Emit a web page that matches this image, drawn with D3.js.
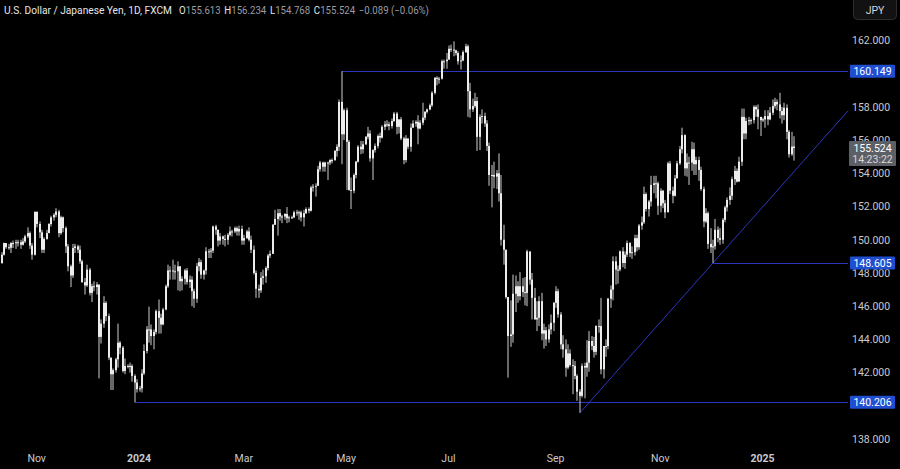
<!DOCTYPE html>
<html>
<head>
<meta charset="utf-8">
<script src="https://cdn.jsdelivr.net/npm/d3@7"></script>
<style>
html, body { margin: 0; padding: 0; background: #000; }
svg { display: block; }
</style>
</head>
<body>
<div id="chart"></div>
<script>
// USD/JPY daily candles, weekdays from 11 Oct 2023 to 20 Jan 2025
var startDate = "2023-10-11";
var firstOpen = 148.60;

var closes = [
  149.10,149.80,149.55,
  149.52,149.80,149.80,149.85,149.85,
  149.70,149.90,150.20,150.40,149.65,
  149.10,151.68,150.95,150.45,149.40,
  150.05,150.40,150.95,151.35,151.50,
  151.70,150.40,151.35,150.70,149.60,
  148.40,147.85,149.50,149.60,149.40,
  148.70,147.45,147.25,148.20,146.80,
  147.20,147.15,147.30,144.15,144.95,
  146.20,145.40,142.90,141.90,142.15,
  142.80,143.80,143.50,142.10,142.40,
  142.40,142.40,141.80,141.40,141.00,
  141.05,141.95,143.30,144.60,144.60,
  144.20,144.45,145.70,145.30,144.90,
  145.80,147.20,148.15,148.15,148.10,
  148.10,148.40,147.50,147.65,148.15,
  147.45,147.60,146.90,146.45,148.40,
  148.65,147.90,148.15,149.30,149.30,
  149.35,150.80,150.60,149.95,150.20,
  150.05,150.00,150.30,150.50,150.50,
  150.70,150.50,150.65,149.95,150.10,
  150.50,150.00,149.40,148.00,147.05,
  146.95,147.70,147.80,148.30,149.05,
  149.15,150.90,151.25,151.60,151.40,
  151.40,151.55,151.30,151.35,151.35,
  151.65,151.60,151.65,151.35,151.60,
  151.85,151.75,153.15,153.20,153.25,
  154.25,154.65,154.40,154.65,154.65,
  154.80,154.80,155.35,155.60,158.30,
  156.35,157.80,155.90,153.00,152.95,
  153.90,154.70,155.60,155.45,155.75,
  156.20,156.40,154.90,155.40,155.65,
  156.25,156.15,156.80,156.95,156.95,
  156.85,157.15,157.60,156.80,157.25,
  156.10,154.80,156.10,155.60,156.75,
  157.00,157.10,156.70,157.05,157.35,
  157.70,157.85,158.10,158.85,159.75,
  159.70,159.70,160.75,160.75,160.85,
  161.50,161.45,161.40,161.25,160.75,
  160.80,161.30,161.65,158.95,157.85,
  158.05,158.35,156.20,157.40,157.45,
  157.00,155.65,153.90,153.90,153.80,
  154.00,152.80,150.00,149.40,146.55,
  144.20,144.30,146.75,147.20,146.60,
  147.20,146.85,146.80,149.30,147.60,
  146.50,145.20,145.30,146.30,144.35,
  144.55,144.00,144.60,145.00,146.20,
  146.90,145.50,143.70,143.40,142.30,
  143.15,142.45,142.40,141.80,140.85,
  140.60,142.40,142.30,142.60,143.90,
  143.60,143.25,144.80,144.80,142.20,
  143.60,143.60,146.45,147.00,148.70,
  148.20,148.20,149.30,148.60,149.10,
  149.80,149.20,149.25,150.10,149.55,
  150.85,151.05,152.75,151.85,152.30,
  153.30,153.40,153.40,152.05,152.95,
  152.20,151.65,154.60,152.95,152.65,
  153.70,154.60,155.45,156.30,154.30,
  154.65,154.65,155.45,154.55,154.80,
  154.20,153.05,151.10,151.60,149.75,
  149.55,149.60,150.60,150.10,150.00,
  151.20,151.95,152.40,152.65,153.65,
  154.15,153.50,154.70,157.40,156.40,
  157.15,157.20,157.20,158.00,157.85,
  157.40,157.20,157.25,157.45,157.25,
  157.65,158.05,158.30,158.15,157.75,
  157.50,157.95,156.50,155.15,155.613,
  155.524
];

var highs = [
  149.25,149.83,149.80,
  149.75,149.85,149.95,150.00,150.00,
  150.00,150.10,150.30,150.75,150.50,
  149.80,151.70,151.70,151.10,150.60,
  150.15,150.60,151.00,151.45,151.60,
  151.90,151.80,151.45,151.40,150.80,
  149.75,148.50,149.75,149.75,149.70,
  149.65,148.80,147.70,148.50,148.30,
  147.35,147.50,147.45,147.30,145.20,
  146.60,146.30,145.55,142.90,142.25,
  142.90,144.95,143.90,143.60,142.85,
  142.50,142.60,142.50,141.90,141.60,
  141.20,142.20,143.70,144.80,145.97,
  144.90,144.60,145.80,146.40,145.55,
  145.90,147.30,148.50,148.40,148.80,
  148.50,148.70,148.40,147.80,148.25,
  148.30,147.85,147.80,147.05,148.60,
  148.90,148.80,148.20,149.55,149.45,
  149.50,150.85,150.90,150.60,150.40,
  150.25,150.30,150.40,150.80,150.60,
  150.80,150.80,150.85,150.85,150.30,
  150.60,150.75,150.25,149.65,148.15,
  147.30,148.05,148.20,148.40,149.15,
  149.35,150.95,151.80,151.85,151.85,
  151.50,151.60,151.97,151.45,151.45,
  151.75,151.80,151.75,151.75,151.80,
  151.95,151.95,153.25,153.35,153.40,
  154.45,154.75,154.70,154.70,154.70,
  154.85,154.90,155.40,155.75,158.45,
  160.149,157.90,157.95,156.00,153.75,
  154.00,154.75,155.70,155.95,155.95,
  156.25,156.80,156.60,155.45,155.80,
  156.35,156.45,156.90,157.15,157.20,
  157.10,157.30,157.70,157.70,157.25,
  157.40,156.20,156.30,156.10,157.00,
  157.20,157.20,157.50,157.20,158.25,
  157.75,157.90,158.20,158.95,159.80,
  159.85,159.80,160.85,160.85,161.25,
  161.70,161.75,161.95,161.45,161.35,
  161.10,161.40,161.80,161.75,159.45,
  158.50,158.85,158.60,157.55,157.85,
  157.65,157.20,155.85,154.50,154.70,
  154.20,155.20,153.90,150.90,149.40,
  146.55,146.35,147.90,147.85,147.50,
  148.05,147.70,147.75,149.40,149.10,
  148.00,147.10,146.30,146.60,146.80,
  144.95,144.75,144.90,145.50,146.25,
  147.20,147.05,145.65,144.25,144.00,
  143.70,143.40,142.80,142.70,141.90,
  141.00,142.55,142.60,143.95,144.50,
  144.20,144.15,144.85,145.20,146.50,
  143.60,144.00,146.50,147.25,149.00,
  149.00,148.45,149.35,149.55,149.30,
  149.95,149.85,149.60,150.30,150.30,
  150.95,151.40,153.20,152.85,152.40,
  153.85,153.85,153.85,153.50,153.10,
  153.00,152.40,154.70,154.75,153.20,
  153.90,154.75,155.65,156.75,156.35,
  155.20,155.00,155.90,155.85,155.00,
  155.00,154.40,153.20,151.90,151.70,
  150.70,150.00,151.25,150.80,150.70,
  151.30,152.05,152.55,153.15,153.80,
  154.45,154.30,155.00,157.90,157.90,
  157.35,157.40,157.30,158.10,158.10,
  158.15,157.40,157.35,157.80,157.80,
  158.00,158.45,158.55,158.45,158.85,
  158.00,158.25,158.15,156.60,156.50,
  156.234
];

var lows = [
  148.55,149.05,149.45,
  149.40,149.20,149.50,149.45,149.60,
  149.45,149.65,149.80,150.10,149.45,
  148.80,149.05,150.75,150.10,149.20,
  149.20,150.00,150.40,150.80,151.15,
  151.35,150.15,150.30,150.45,149.20,
  148.10,147.15,147.70,149.20,149.20,
  148.55,147.40,146.70,147.15,146.65,
  146.25,146.90,146.70,141.65,143.75,
  144.70,145.10,142.75,140.95,140.95,
  142.00,142.30,143.10,142.00,141.90,
  142.25,142.00,141.45,140.206,140.80,
  140.85,140.80,141.85,143.15,143.80,
  143.65,143.40,144.30,144.35,144.35,
  144.85,145.75,147.10,147.60,147.60,
  147.60,146.95,146.90,146.95,147.30,
  147.30,147.10,146.00,145.90,146.20,
  148.10,147.65,147.60,147.90,148.90,
  148.90,149.20,150.30,149.60,149.70,
  149.70,149.60,149.70,150.20,150.20,
  150.40,150.25,150.25,149.70,149.70,
  150.05,149.90,149.20,147.90,146.50,
  146.50,146.80,147.30,147.40,148.15,
  148.90,149.20,150.90,150.25,151.15,
  151.00,151.20,151.00,151.05,151.25,
  151.30,151.45,151.20,151.10,150.80,
  151.55,151.60,151.70,152.90,152.60,
  153.25,154.10,154.10,154.10,153.60,
  154.50,154.60,154.75,155.00,155.35,
  154.55,156.00,153.00,152.95,151.85,
  152.80,153.70,154.65,155.15,155.20,
  155.70,156.05,154.70,153.60,155.25,
  155.50,155.85,156.10,156.60,156.80,
  156.60,156.70,157.10,156.35,156.40,
  156.00,154.55,154.65,155.45,155.30,
  156.75,156.80,155.75,156.65,156.90,
  157.20,157.60,157.80,158.00,158.75,
  159.30,159.40,159.65,160.30,160.30,
  160.85,161.30,161.05,161.10,160.55,
  160.25,160.75,161.25,157.40,157.35,
  157.70,157.95,155.35,155.40,157.00,
  156.80,155.35,153.25,151.95,153.10,
  153.05,152.30,149.65,148.50,146.45,
  141.70,143.55,143.80,145.65,146.20,
  146.35,146.55,146.05,146.00,147.30,
  145.20,145.20,144.50,144.80,143.95,
  143.45,143.60,143.80,144.30,144.50,
  145.90,145.30,143.40,142.90,141.75,
  142.20,142.35,140.70,141.60,140.30,
  139.58,140.50,140.45,141.75,142.05,
  143.35,142.90,143.05,144.40,141.90,
  141.65,142.95,143.40,145.90,146.35,
  147.30,147.35,148.10,148.35,148.25,
  148.95,148.95,148.85,149.05,149.30,
  149.40,150.60,150.95,151.70,151.40,
  152.00,152.80,152.50,151.50,151.65,
  151.90,151.30,151.80,152.75,152.20,
  152.60,153.70,154.50,155.20,153.85,
  153.80,153.30,154.15,153.90,153.90,
  153.55,152.95,150.75,151.00,149.45,
  149.20,148.605,149.40,149.85,149.70,
  149.75,151.05,151.70,152.10,152.40,
  153.30,153.45,153.60,154.45,156.05,
  156.05,156.90,156.95,157.00,157.40,
  156.65,156.25,157.10,156.75,156.90,
  157.20,157.50,157.90,157.80,157.30,
  157.00,157.20,156.05,154.95,155.05,
  154.768
];

// 140 and 160 sit under the level labels, so the axis skips them
var yTicks = [138, 142, 144, 146, 148, 150, 152, 154, 156, 158, 162];
var monthKeys = ["2023-11", "2024-01", "2024-03", "2024-05", "2024-07", "2024-09", "2024-11", "2025-01"];
var monthLabels = ["Nov", "2024", "Mar", "May", "Jul", "Sep", "Nov", "2025"];

// horizontal levels and the candle they start from
var levelValues = [160.149, 148.605, 140.206];
var levelStarts = ["2024-04-29", "2024-12-03", "2023-12-28"];
// rising trend line through two lows
var trendDates = ["2024-09-16", "2024-12-03"];
var trendPrices = [139.58, 148.605];

var titleText = "U.S. Dollar / Japanese Yen, 1D, FXCM";
var ohlcLabels = ["O", "H", "L", "C"];
var ohlcValues = ["155.613", "156.234", "154.768", "155.524"];
var changeText = "\u22120.089 (\u22120.06%)";
var lastPrice = 155.524;
var countdown = "14:23:22";

var width = 900, height = 469;
var plotRight = 848;
var font = "Roboto, 'Liberation Sans', sans-serif";
var lineColor = "#2b36c0";

// weekday dates for every candle
var parse = d3.timeParse("%Y-%m-%d"), fmt = d3.timeFormat("%Y-%m-%d");
var dates = [];
var day = parse(startDate);
while (dates.length < closes.length) {
    if (day.getDay() !== 0 && day.getDay() !== 6) dates.push(fmt(day));
    day = d3.timeDay.offset(day, 1);
}

var data = closes.map(function(c, i) {
    return { i: i, date: dates[i], open: i ? closes[i - 1] : firstOpen, high: highs[i], low: lows[i], close: c };
});

var x = d3.scaleLinear().domain([0, data.length - 1]).range([0.5, 793]);
var y = d3.scaleLinear().domain([138, 162]).range([439, 40.5]);

function idx(dateStr) { return dates.indexOf(dateStr); }

var svg = d3.select("#chart").append("svg")
    .attr("width", width)
    .attr("height", height)
    .style("font-family", font);

svg.append("rect").attr("width", width).attr("height", height).attr("fill", "#000");

var plot = svg.append("g");

// level lines
levelValues.forEach(function(v, k) {
    plot.append("line")
        .attr("x1", Math.round(x(idx(levelStarts[k]))) + 1)
        .attr("x2", plotRight)
        .attr("y1", Math.round(y(v)) + 0.5)
        .attr("y2", Math.round(y(v)) + 0.5)
        .attr("stroke", lineColor)
        .attr("stroke-width", 1.2);
});

// trend line, extended to the price axis
var tx0 = Math.round(x(idx(trendDates[0]))) + 1, ty0 = y(trendPrices[0]);
var tx1 = Math.round(x(idx(trendDates[1]))) + 1, ty1 = y(trendPrices[1]);
var slope = (ty1 - ty0) / (tx1 - tx0);
plot.append("line")
    .attr("x1", tx0).attr("y1", ty0)
    .attr("x2", plotRight).attr("y2", ty0 + slope * (plotRight - tx0))
    .attr("stroke", lineColor)
    .attr("stroke-width", 1);

// candles
var candles = plot.selectAll("g.candle")
    .data(data)
    .enter().append("g")
    .attr("class", "candle");

candles.append("line")
    .attr("x1", function(d) { return Math.round(x(d.i)) + 1; })
    .attr("x2", function(d) { return Math.round(x(d.i)) + 1; })
    .attr("y1", function(d) { return y(d.high); })
    .attr("y2", function(d) { return y(d.low); })
    .attr("stroke", "#cfcfcf")
    .attr("stroke-width", 1);

candles.append("rect")
    .attr("x", function(d) { return Math.round(x(d.i)); })
    .attr("width", 2)
    .attr("y", function(d) { return y(Math.max(d.open, d.close)); })
    .attr("height", function(d) { return Math.max(1, Math.abs(y(d.open) - y(d.close))); })
    .attr("fill", "#ececec");

// price axis
var yAxis = svg.append("g")
    .attr("transform", "translate(852,0)")
    .call(d3.axisRight(y).tickValues(yTicks).tickSize(0).tickPadding(0).tickFormat(d3.format(".3f")));
yAxis.select(".domain").remove();
yAxis.selectAll("text")
    .attr("fill", "#c8cad0")
    .style("font-size", "10.5px")
    .style("font-family", font);

// time axis
var monthIdx = monthKeys.map(function(m) {
    for (var i = 0; i < dates.length; i++) if (dates[i].slice(0, 7) === m) return i;
    return 0;
});
var xAxis = svg.append("g")
    .attr("transform", "translate(0,455)")
    .call(d3.axisBottom(x).tickValues(monthIdx).tickSize(0).tickPadding(0)
        .tickFormat(function(d, i) { return monthLabels[i]; }));
xAxis.select(".domain").remove();
xAxis.selectAll("text")
    .attr("fill", "#c8cad0")
    .style("font-size", "10.5px")
    .style("font-family", font)
    .style("font-weight", function(d, i) { return monthLabels[i].length === 4 ? "bold" : "normal"; });

// level labels on the price axis
levelValues.forEach(function(v) {
    var cy = y(v);
    svg.append("rect")
        .attr("x", 850).attr("y", cy - 6.5)
        .attr("width", 45).attr("height", 13)
        .attr("rx", 1)
        .attr("fill", "#1f4fd0");
    svg.append("text")
        .attr("x", 872.5).attr("y", cy + 3.8)
        .attr("text-anchor", "middle")
        .attr("fill", "#ffffff")
        .style("font-size", "10.5px")
        .text(d3.format(".3f")(v));
});

// last price box with countdown
var ly = y(lastPrice);
svg.append("rect")
    .attr("x", 849).attr("y", ly - 7)
    .attr("width", 47).attr("height", 25)
    .attr("rx", 1)
    .attr("fill", "#5d5f66");
svg.append("text")
    .attr("x", 872.5).attr("y", ly + 3.8)
    .attr("text-anchor", "middle")
    .attr("fill", "#ffffff")
    .style("font-size", "10.5px")
    .text(d3.format(".3f")(lastPrice));
svg.append("text")
    .attr("x", 872.5).attr("y", ly + 15)
    .attr("text-anchor", "middle")
    .attr("fill", "#d8d8d8")
    .style("font-size", "10.5px")
    .text(countdown);

// currency badge
svg.append("rect")
    .attr("x", 853.5).attr("y", -4.5)
    .attr("width", 43).attr("height", 24)
    .attr("rx", 4)
    .attr("fill", "#121212")
    .attr("stroke", "#2e2e2e");
svg.append("text")
    .attr("x", 875).attr("y", 14)
    .attr("text-anchor", "middle")
    .attr("fill", "#d1d4dc")
    .style("font-size", "10.5px")
    .text("JPY");

// legend line at the top
svg.append("text")
    .attr("x", 4).attr("y", 14)
    .attr("fill", "#e6e6e6")
    .attr("textLength", 168)
    .attr("lengthAdjust", "spacingAndGlyphs")
    .style("font-size", "10.5px")
    .text(titleText);

var legend = svg.append("text")
    .attr("x", 179).attr("y", 14)
    .attr("textLength", 250)
    .attr("lengthAdjust", "spacingAndGlyphs")
    .style("font-size", "10.5px");
ohlcLabels.forEach(function(l, k) {
    legend.append("tspan").attr("fill", "#e6e6e6").attr("dx", k ? 4 : 0).text(l);
    legend.append("tspan").attr("fill", "#9a9ca3").text(ohlcValues[k]);
});
legend.append("tspan").attr("fill", "#9a9ca3").attr("dx", 4).text(changeText);
</script>
</body>
</html>
